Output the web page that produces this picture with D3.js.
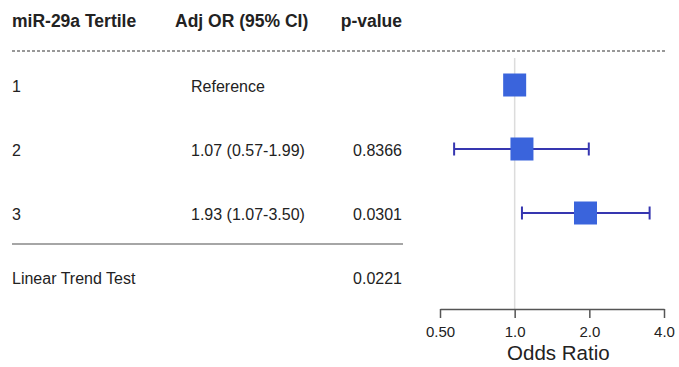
<!DOCTYPE html>
<html lang="en">
<head>
    <meta charset="UTF-8">
    <title>Forest Plot</title>
    <style>
        body { margin: 0; background: #fff; }
        svg { display: block; font-family: "Liberation Sans", Arial, sans-serif; }
    </style>
    <script src="https://d3js.org/d3.v7.min.js"></script>
</head>
<body>
    <svg id="chart" width="679" height="367"></svg>
    <script>
        // table data
        var headers = ["miR-29a Tertile", "Adj OR (95% CI)", "p-value"];
        var tertiles = ["1", "2", "3"];
        var orLabels = ["Reference", "1.07 (0.57-1.99)", "1.93 (1.07-3.50)"];
        var pValues = ["", "0.8366", "0.0301"];
        var oddsRatio = [1.0, 1.07, 1.93];
        var ciLow = [null, 0.57, 1.07];
        var ciHigh = [null, 1.99, 3.50];
        var trendLabel = "Linear Trend Test";
        var trendP = "0.0221";
        var tickValues = [0.5, 1, 2, 4];
        var tickLabels = ["0.50", "1.0", "2.0", "4.0"];

        var svg = d3.select("#chart");
        var textColor = "#222";

        var x = d3.scaleLog().domain([0.5, 4]).range([440, 664]);
        var rowY = d3.scalePoint().domain(tertiles.concat(["trend"])).range([85, 277]);

        // header
        var headX = [12, 175, 402];
        svg.selectAll(".head").data(headers).enter().append("text")
            .attr("x", function (d, i) { return headX[i]; })
            .attr("y", 21)
            .attr("dominant-baseline", "central")
            .attr("text-anchor", function (d, i) { return i == 2 ? "end" : "start"; })
            .style("font-weight", "bold")
            .style("font-size", "17.5px")
            .style("fill", textColor)
            .text(function (d) { return d; });

        svg.append("line")
            .attr("x1", 12).attr("x2", 665).attr("y1", 51).attr("y2", 51)
            .style("stroke", "#777").style("stroke-width", 1.3)
            .style("stroke-dasharray", "3,2");

        // reference line at OR = 1
        svg.append("line")
            .attr("x1", x(1)).attr("x2", x(1)).attr("y1", 58).attr("y2", 309)
            .style("stroke", "#dcdcdc").style("stroke-width", 1.5);

        // table rows
        var rows = svg.selectAll(".row").data(tertiles).enter().append("g")
            .attr("transform", function (d) { return "translate(0," + (rowY(d) + 1) + ")"; });
        rows.append("text").attr("x", 12)
            .text(function (d) { return d; });
        rows.append("text").attr("x", 191)
            .text(function (d, i) { return orLabels[i]; });
        rows.append("text").attr("x", 402).attr("text-anchor", "end")
            .text(function (d, i) { return pValues[i]; });
        rows.selectAll("text")
            .attr("dominant-baseline", "central")
            .style("font-size", "16px")
            .style("fill", textColor);

        svg.append("line")
            .attr("x1", 12).attr("x2", 403).attr("y1", 244).attr("y2", 244)
            .style("stroke", "#888").style("stroke-width", 1.5);

        var trend = svg.append("g").attr("transform", "translate(0," + (rowY("trend") + 1) + ")");
        trend.append("text").attr("x", 12).text(trendLabel);
        trend.append("text").attr("x", 402).attr("text-anchor", "end").text(trendP);
        trend.selectAll("text")
            .attr("dominant-baseline", "central")
            .style("font-size", "16px")
            .style("fill", textColor);

        // error bars
        var barColor = "#3636b0";
        var ciRows = tertiles.filter(function (d, i) { return ciLow[i] != null; });
        var bars = svg.selectAll(".ci").data(ciRows).enter().append("g");
        bars.append("line")
            .attr("x1", function (d) { return x(ciLow[tertiles.indexOf(d)]); })
            .attr("x2", function (d) { return x(ciHigh[tertiles.indexOf(d)]); })
            .attr("y1", function (d) { return rowY(d); })
            .attr("y2", function (d) { return rowY(d); });
        bars.append("line")
            .attr("x1", function (d) { return x(ciLow[tertiles.indexOf(d)]); })
            .attr("x2", function (d) { return x(ciLow[tertiles.indexOf(d)]); })
            .attr("y1", function (d) { return rowY(d) - 6.5; })
            .attr("y2", function (d) { return rowY(d) + 6.5; });
        bars.append("line")
            .attr("x1", function (d) { return x(ciHigh[tertiles.indexOf(d)]); })
            .attr("x2", function (d) { return x(ciHigh[tertiles.indexOf(d)]); })
            .attr("y1", function (d) { return rowY(d) - 6.5; })
            .attr("y2", function (d) { return rowY(d) + 6.5; });
        bars.selectAll("line").style("stroke", barColor).style("stroke-width", 2);

        // point estimates
        var sq = 23;
        svg.selectAll(".pt").data(tertiles).enter().append("rect")
            .attr("x", function (d, i) { return x(oddsRatio[i]) - sq / 2; })
            .attr("y", function (d) { return rowY(d) - sq / 2; })
            .attr("width", sq).attr("height", sq)
            .style("fill", "#3a64dc");

        // axis
        var axis = svg.append("g").attr("transform", "translate(0,309)")
            .call(d3.axisBottom(x).tickValues(tickValues)
                .tickFormat(function (d, i) { return tickLabels[i]; })
                .tickSize(9).tickSizeOuter(0).tickPadding(8));
        axis.select(".domain").style("stroke", "#555").style("stroke-width", 1.5);
        axis.selectAll(".tick line").style("stroke", "#555").style("stroke-width", 1.5);
        axis.selectAll(".tick text")
            .style("font-size", "15px")
            .style("font-family", "Liberation Sans, Arial, sans-serif")
            .style("fill", textColor);

        svg.append("text")
            .attr("x", x(1.5)).attr("y", 352)
            .attr("text-anchor", "middle")
            .attr("dominant-baseline", "central")
            .style("font-size", "20.5px")
            .style("fill", textColor)
            .text("Odds Ratio");
    </script>
</body>
</html>
